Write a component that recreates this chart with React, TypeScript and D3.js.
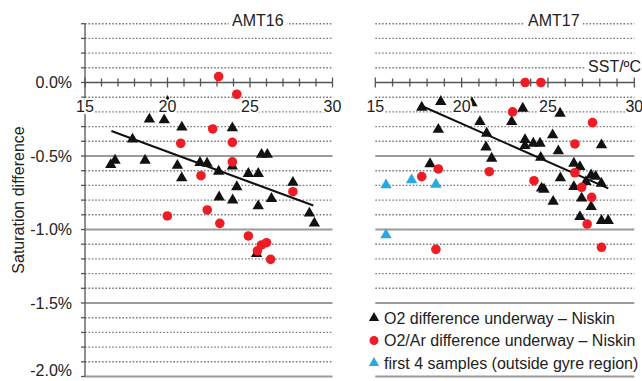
import React from 'react';
import * as d3 from 'd3';

// [SST in degC, saturation difference in %]
const amt16O2 = [
  [20.0, -0.13], [18.9, -0.25], [19.8, -0.255], [20.87, -0.305], [17.88, -0.386],
  [16.82, -0.53], [16.56, -0.56], [18.64, -0.53], [20.6, -0.565], [21.97, -0.545],
  [22.4, -0.55], [23.1, -0.605], [20.86, -0.65], [23.93, -0.31], [23.93, -0.57],
  [25.7, -0.49], [26.05, -0.49], [24.9, -0.62], [25.5, -0.62], [24.2, -0.71],
  [27.6, -0.68], [23.13, -0.78], [23.95, -0.8], [25.5, -0.84], [26.3, -0.79],
  [28.6, -0.89], [28.9, -0.958], [25.4, -1.165],
];
const amt16O2Ar = [
  [23.1, 0.04], [24.2, -0.08], [22.74, -0.316], [20.8, -0.414], [23.93, -0.407],
  [23.93, -0.54], [22.03, -0.634], [27.6, -0.743], [19.99, -0.908], [22.41, -0.867],
  [23.17, -0.958], [24.9, -1.044], [25.45, -1.145], [25.7, -1.105], [26.0, -1.09],
  [26.25, -1.203],
];
const amt17O2 = [
  [17.69, -0.169], [18.79, -0.13], [20.6, -0.14], [18.65, -0.32], [21.06, -0.267],
  [21.45, -0.346], [21.41, -0.44], [21.74, -0.516], [18.17, -0.554], [23.54, -0.176],
  [22.9, -0.267], [25.7, -0.21], [25.27, -0.357], [23.67, -0.39], [24.15, -0.414],
  [24.54, -0.414], [23.67, -0.43], [24.58, -0.51], [25.6, -0.466], [28.1, -0.425],
  [26.5, -0.55], [26.85, -0.573], [27.5, -0.63], [27.76, -0.64], [28.09, -0.686],
  [25.72, -0.65], [27.2, -0.675], [24.63, -0.72], [24.77, -0.727], [25.3, -0.81],
  [26.5, -0.709], [26.95, -0.788], [27.5, -0.845], [26.85, -0.913], [28.1, -0.94],
  [28.49, -0.94],
];
const amt17O2Ar = [
  [23.68, 0.0], [24.59, 0.0], [22.95, -0.2], [27.58, -0.273], [26.56, -0.418],
  [18.65, -0.588], [17.69, -0.64], [21.6, -0.607], [24.19, -0.668], [26.56, -0.614],
  [26.95, -0.713], [27.53, -0.781], [27.27, -0.963], [28.1, -1.121], [18.51, -1.135],
];
const amt17First4 = [[15.62, -0.697], [17.1, -0.663], [18.51, -0.693], [15.62, -1.037]];

const amt16Trend = [[16.6, -0.33], [28.84, -0.837]];
const amt17Trend = [[17.69, -0.16], [28.49, -0.72]];

const xTicks = [15, 20, 25, 30];
const xMinor = d3.range(15, 31);
const yLabels = [0, -0.5, -1.0, -1.5, -2.0];
const gridVals = d3.range(4, -21, -1).map(i => i / 10);

const legendItems = [
  { label: 'O2 difference underway – Niskin', shape: 'tri', color: '#111' },
  { label: 'O2/Ar difference underway – Niskin', shape: 'circle', color: '#ee1c25' },
  { label: 'first 4 samples (outside gyre region)', shape: 'tri', color: '#29a9e1' },
];

const FONT = '"Liberation Sans", Arial, sans-serif';
const RED = '#ee1c25';
const BLUE = '#29a9e1';

const y = d3.scaleLinear().domain([0.4, -2.0]).range([23.7, 376.5]);
const triPath = d3.symbol(d3.symbolTriangle, 56)();

function Panel({ x, o2, o2ar, first4, trend, title, showYAxis, sstLabel }) {
  const [x0, x1] = x.range();
  const line = d3.line().x(d => x(d[0])).y(d => y(d[1]));
  return (
    <g>
      {gridVals.map(v => {
        if (Math.abs(v) < 1e-9) return null;
        const major = Math.abs(Math.round(v * 10)) % 5 === 0;
        return (
          <line key={v} x1={x0} x2={x1} y1={y(v)} y2={y(v)}
            stroke={major ? '#9a9a9a' : '#7a7a7a'}
            strokeWidth={major ? 2 : 1.4}
            strokeDasharray={major ? null : '1.6,1.8'} />
        );
      })}
      {showYAxis && (
        <g>
          <line x1={x0} x2={x0} y1={y(0.4)} y2={y(-2.0)} stroke="#555" strokeWidth={1.3} />
          {gridVals.map(v => (
            <line key={v} x1={x0 - 4} x2={x0} y1={y(v)} y2={y(v)} stroke="#555" strokeWidth={1.3} />
          ))}
          {yLabels.map(v => (
            <text key={v} x={72} y={Math.min(y(v) + 5.8, 376)} textAnchor="end" fontSize={16} fill="#222">
              {(v === 0 ? '0.0' : v.toFixed(1)) + '%'}
            </text>
          ))}
        </g>
      )}
      {/* x axis along 0% */}
      <line x1={x0} x2={x1} y1={y(0)} y2={y(0)} stroke="#555" strokeWidth={1.4} />
      {xMinor.map(t => (
        <line key={t} x1={x(t)} x2={x(t)} y1={y(0) - (t % 5 === 0 ? 5 : 4)} y2={y(0) + (t % 5 === 0 ? 5 : 4)}
          stroke="#555" strokeWidth={1.3} />
      ))}

      {trend && <path d={line(trend)} fill="none" stroke="#111" strokeWidth={2} />}

      {o2.map((d, i) => (
        <path key={'t' + i} d={triPath} transform={`translate(${x(d[0])},${y(d[1])})`} fill="#111" />
      ))}
      {first4 && first4.map((d, i) => (
        <path key={'b' + i} d={triPath} transform={`translate(${x(d[0])},${y(d[1])})`} fill={BLUE} />
      ))}
      {o2ar.map((d, i) => (
        <circle key={'c' + i} cx={x(d[0])} cy={y(d[1])} r={4.8} fill={RED} />
      ))}

      {xTicks.map(t => (
        <text key={t} x={x(t)} y={111.5} textAnchor="middle" fontSize={16} fill="#222"
          stroke="#fff" strokeWidth={4} paintOrder="stroke">{t}</text>
      ))}

      <rect x={(x0 + x1) / 2 + 20} y={14} width={58} height={16} fill="#fff" />
      <text x={(x0 + x1) / 2 + 49} y={26} textAnchor="middle" fontSize={16} fill="#222">{title}</text>

      {sstLabel && (
        <g>
          <rect x={586} y={58} width={56} height={16} fill="#fff" />
          <text x={641} y={71.7} textAnchor="end" fontSize={16} fill="#222">SST/ºC</text>
        </g>
      )}
    </g>
  );
}

export default function App() {
  const xLeft = d3.scaleLinear().domain([15, 30]).range([85, 332.5]);
  const xRight = d3.scaleLinear().domain([15, 30]).range([375.3, 634.3]);
  return (
    <svg width={642} height={381} style={{ position: 'absolute', left: 0, top: 0, background: '#fff' }}
      fontFamily={FONT}>
      <rect width={642} height={381} fill="#fff" />
      <Panel x={xLeft} o2={amt16O2} o2ar={amt16O2Ar} trend={amt16Trend} title="AMT16" showYAxis />
      <Panel x={xRight} o2={amt17O2} o2ar={amt17O2Ar} first4={amt17First4} trend={amt17Trend}
        title="AMT17" sstLabel />

      <text transform="translate(24,200) rotate(-90)" textAnchor="middle" fontSize={16} fill="#222">
        Saturation difference
      </text>

      {/* legend */}
      <rect x={366} y={308} width={276} height={65} fill="#fff" />
      {legendItems.map((d, i) => {
        const cy = 318 + i * 22.5;
        return (
          <g key={d.label}>
            {d.shape === 'tri'
              ? <path d={d3.symbol(d3.symbolTriangle, 46)()} transform={`translate(374,${cy})`} fill={d.color} />
              : <circle cx={374} cy={cy} r={4.5} fill={d.color} />}
            <text x={384} y={cy + 5.8} fontSize={16} fill="#222">{d.label}</text>
          </g>
        );
      })}
    </svg>
  );
}
